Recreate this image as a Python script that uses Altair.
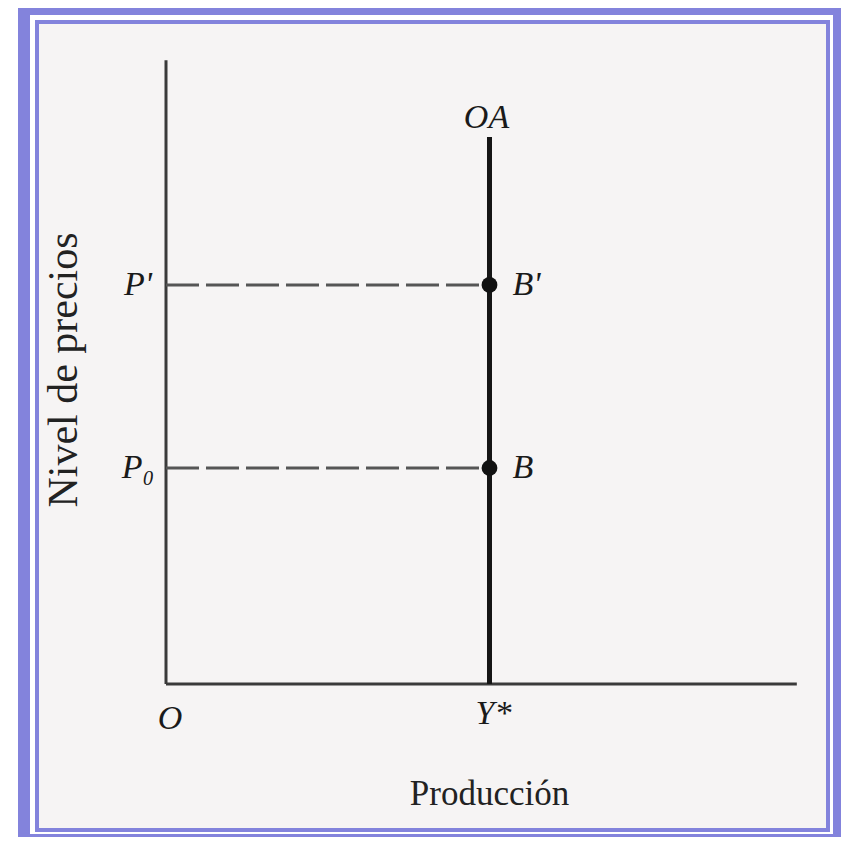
import altair as alt
import pandas as pd

# ---- data (model units) ----
y_star = 5.0                 # potential output Y*
price_names = ["P'", "P₀"]
price_values = [7.39, 4.0]
point_names = ["B'", "B"]
oa_top = 10.13
x_axis_end = 9.75
y_axis_top = 11.55

W, H = 833, 829
xs = alt.Scale(domain=[-2.442, 10.4328], nice=False, zero=False)
ys = alt.Scale(domain=[-2.8333, 12.5185], nice=False, zero=False)
X = lambda f: alt.X(f, type="quantitative", scale=xs, axis=None)
Y = lambda f: alt.Y(f, type="quantitative", scale=ys, axis=None)

one = pd.DataFrame({"a": [0]})

def frame(x1, x2, y1, y2, color):
    return alt.Chart(one).mark_rect(color=color, opacity=1).encode(
        x=alt.value(x1), x2=alt.value(x2), y=alt.value(y1), y2=alt.value(y2))

BLUE = "#8383dc"
bg = (frame(10, 833, 0, 829, BLUE) + frame(22, 825, 7, 826, "#ffffff")
      + frame(27, 822, 12, 824, BLUE) + frame(31, 818, 16, 820, "#f6f4f4"))

axes_df = pd.DataFrame({"x": [0, 0], "x2": [x_axis_end, 0],
                        "y": [0, 0], "y2": [0, y_axis_top]})
axes = alt.Chart(axes_df).mark_rule(color="#3a3a3a", strokeWidth=3).encode(
    x=X("x"), x2="x2", y=Y("y"), y2="y2")

oa_df = pd.DataFrame({"x": [y_star], "y": [0], "y2": [oa_top]})
oa = alt.Chart(oa_df).mark_rule(color="#151515", strokeWidth=5).encode(
    x=X("x"), y=Y("y"), y2="y2")

dash_df = pd.DataFrame({"x": [0, 0], "x2": [y_star, y_star], "y": price_values})
dashes = alt.Chart(dash_df).mark_rule(color="#555555", strokeWidth=3,
                                      strokeDash=[33, 7]).encode(
    x=X("x"), x2="x2", y=Y("y"))

pts_df = pd.DataFrame({"x": [y_star, y_star], "y": price_values, "name": point_names})
pts = alt.Chart(pts_df).mark_circle(color="#111111", opacity=1, size=250).encode(
    x=X("x"), y=Y("y"))

ital = dict(font="Liberation Serif", fontStyle="italic", fontSize=34,
            color="#1a1a1a", baseline="middle")

p_df = pd.DataFrame({"x": [0, 0], "y": price_values, "t": price_names})
p_lab = alt.Chart(p_df).mark_text(align="center", dx=-28, **ital).encode(
    x=X("x"), y=Y("y"), text="t")

b_lab = alt.Chart(pts_df).mark_text(align="left", dx=23, **ital).encode(
    x=X("x"), y=Y("y"), text="name")

oa_lab = alt.Chart(pd.DataFrame({"x": [y_star], "y": [oa_top], "t": ["OA"]})).mark_text(
    align="center", dx=-3, dy=-9, **{**ital, "baseline": "alphabetic"}).encode(
    x=X("x"), y=Y("y"), text="t")

o_lab = alt.Chart(pd.DataFrame({"x": [0], "y": [0], "t": ["O"]})).mark_text(
    align="center", dx=4, dy=35, **ital).encode(x=X("x"), y=Y("y"), text="t")

ys_lab = alt.Chart(pd.DataFrame({"x": [y_star], "y": [0], "t": ["Y*"]})).mark_text(
    align="center", dx=4, dy=30, **ital).encode(x=X("x"), y=Y("y"), text="t")

up = dict(font="Liberation Serif", color="#222222")
prod = alt.Chart(pd.DataFrame({"x": [y_star], "y": [-2.2407], "t": ["Producción"]})).mark_text(
    align="center", baseline="alphabetic", fontSize=35, **up).encode(
    x=X("x"), y=Y("y"), text="t")
nivel = alt.Chart(pd.DataFrame({"x": [-1.5765], "y": [5.815], "t": ["Nivel de precios"]})).mark_text(
    align="center", baseline="middle", angle=270, fontSize=42, **up).encode(
    x=X("x"), y=Y("y"), text="t")

chart = alt.layer(bg, axes, dashes, oa, pts, p_lab, b_lab, oa_lab, o_lab, ys_lab,
                  prod, nivel).properties(
    width=W, height=H, padding=0, autosize=alt.AutoSizeParams(type="none"),
    background="#ffffff"
).configure_view(stroke=None)

chart.save("out.html", embed_options={"renderer": "svg", "actions": False})
